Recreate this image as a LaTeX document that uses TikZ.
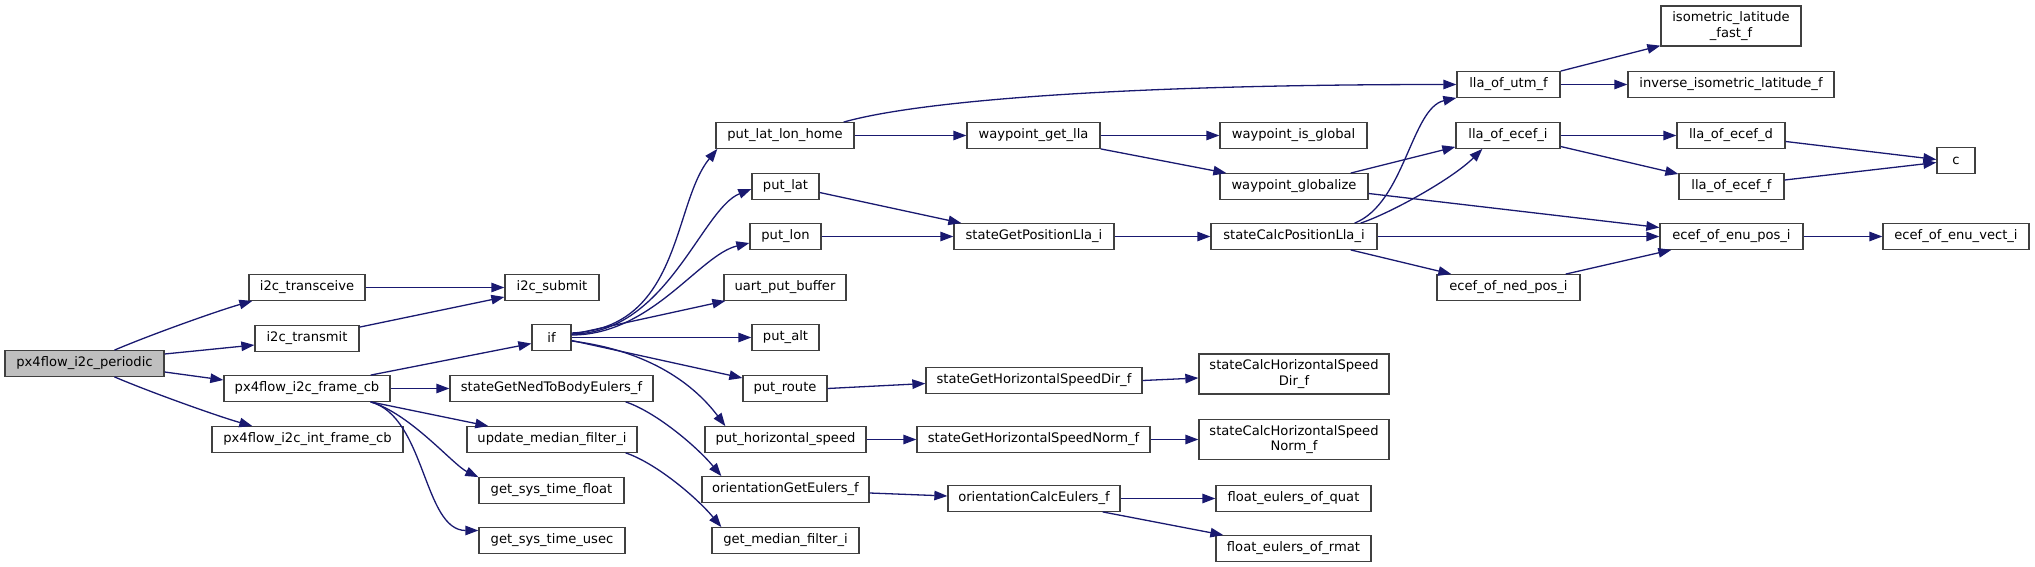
\documentclass[tikz,border=0pt]{standalone}
\usepackage{fontspec}
\setmainfont{DejaVu Sans}
\usetikzlibrary{arrows.meta,calc,positioning}
\definecolor{edgeblue}{RGB}{25,25,112}
\definecolor{boxgray}{RGB}{64,64,64}
\definecolor{rootgray}{RGB}{191,191,191}

\begin{document}
\begin{tikzpicture}[x=1pt,y=-1pt]
  \tikzset{
    fn/.style={draw=boxgray,line width=1.3pt,fill=white,minimum height=25.5pt,inner sep=0pt,align=center,font=\fontsize{13.1}{15.5}\selectfont},
    fntwo/.style={fn,minimum height=40pt},
    call/.style={draw=edgeblue,line width=1.3pt,-{Triangle[length=13pt,width=9.5pt]}}
  }
  \useasboundingbox (0,0) rectangle (2035,567);
  % column 0 and 1
  \node[fn,fill=rootgray,minimum width=159pt] (root) at (84.5,363.5) {px4flow\_i2c\_periodic};
  \node[fn,minimum width=116pt] (transceive) at (307,287.5) {i2c\_transceive};
  \node[fn,minimum width=104pt] (transmit) at (307,338.5) {i2c\_transmit};
  \node[fn,minimum width=166pt] (framecb) at (307,388.5) {px4flow\_i2c\_frame\_cb};
  \node[fn,minimum width=191pt] (intframecb) at (307.5,439.5) {px4flow\_i2c\_int\_frame\_cb};
  % column 2
  \node[fn,minimum width=94pt] (submit) at (552,287.5) {i2c\_submit};
  \node[fn,minimum width=39pt] (if) at (551.5,337.5) {if};
  \node[fn,minimum width=203pt] (nedtobody) at (551.5,388.5) {stateGetNedToBodyEulers\_f};
  \node[fn,minimum width=170pt] (updmedian) at (552,439.5) {update\_median\_filter\_i};
  \node[fn,minimum width=145pt] (timefloat) at (551.5,490.5) {get\_sys\_time\_float};
  \node[fn,minimum width=146pt] (timeusec) at (552,540.5) {get\_sys\_time\_usec};
  % column 3
  \node[fn,minimum width=138pt] (latlonhome) at (785,135.5) {put\_lat\_lon\_home};
  \node[fn,minimum width=67pt] (putlat) at (785.5,186.5) {put\_lat};
  \node[fn,minimum width=71pt] (putlon) at (785.5,236.5) {put\_lon};
  \node[fn,minimum width=122pt] (uartbuf) at (785,287.5) {uart\_put\_buffer};
  \node[fn,minimum width=67pt] (putalt) at (785.5,337.5) {put\_alt};
  \node[fn,minimum width=84pt] (putroute) at (785,388.5) {put\_route};
  \node[fn,minimum width=161pt] (hspeed) at (785.5,439.5) {put\_horizontal\_speed};
  \node[fn,minimum width=167pt] (getEulers) at (785.5,489.5) {orientationGetEulers\_f};
  \node[fn,minimum width=147pt] (getmedian) at (785.5,540.5) {get\_median\_filter\_i};
  % column 4
  \node[fn,minimum width=133pt] (wpgetlla) at (1033.5,135.5) {waypoint\_get\_lla};
  \node[fn,minimum width=160pt] (getposlla) at (1034,236.5) {stateGetPositionLla\_i};
  \node[fn,minimum width=216pt] (gethsdir) at (1034,380.5) {stateGetHorizontalSpeedDir\_f};
  \node[fn,minimum width=233pt] (gethsnorm) at (1033.5,439.5) {stateGetHorizontalSpeedNorm\_f};
  \node[fn,minimum width=172pt] (calcEulers) at (1034,498.5) {orientationCalcEulers\_f};
  % column 5
  \node[fn,minimum width=147pt] (wpisglobal) at (1293.5,135.5) {waypoint\_is\_global};
  \node[fn,minimum width=148pt] (wpglobalize) at (1294,186.5) {waypoint\_globalize};
  \node[fn,minimum width=166pt] (calcposlla) at (1294,236.5) {stateCalcPositionLla\_i};
  \node[fntwo,minimum width=190pt] (calchsdir) at (1294,374) {stateCalcHorizontalSpeed\\Dir\_f};
  \node[fntwo,minimum width=190pt] (calchsnorm) at (1294,439.5) {stateCalcHorizontalSpeed\\Norm\_f};
  \node[fn,minimum width=155pt] (ofquat) at (1293.5,498.5) {float\_eulers\_of\_quat};
  \node[fn,minimum width=155pt] (ofrmat) at (1293.5,548.5) {float\_eulers\_of\_rmat};
  % column 6
  \node[fn,minimum width=103pt] (llautm) at (1508.5,84.5) {lla\_of\_utm\_f};
  \node[fn,minimum width=104pt] (llaecefi) at (1508,135.5) {lla\_of\_ecef\_i};
  \node[fn,minimum width=143pt] (nedpos) at (1508.5,287.5) {ecef\_of\_ned\_pos\_i};
  % column 7
  \node[fntwo,minimum width=140pt] (isofast) at (1731,26) {isometric\_latitude\\\_fast\_f};
  \node[fn,minimum width=206pt] (inviso) at (1731,84.5) {inverse\_isometric\_latitude\_f};
  \node[fn,minimum width=108pt] (llaecefd) at (1731,135.5) {lla\_of\_ecef\_d};
  \node[fn,minimum width=105pt] (llaeceff) at (1731.5,186.5) {lla\_of\_ecef\_f};
  \node[fn,minimum width=143pt] (enupos) at (1731.5,236.5) {ecef\_of\_enu\_pos\_i};
  % column 8
  \node[fn,minimum width=38pt] (c) at (1956,160.5) {c};
  \node[fn,minimum width=146pt] (enuvect) at (1956,236.5) {ecef\_of\_enu\_vect\_i};

  % calls from the root
  \draw[call] ($(root.north)+(30,0)$) .. controls +(35,-15) and +(-35,10) .. ($(transceive.south west)+(4,0)$);
  \draw[call] ($(root.east)+(0,-9.5)$) -- ($(transmit.west)+(0,6.5)$);
  \draw[call] ($(root.east)+(0,8.5)$) -- ($(framecb.west)+(0,-8.5)$);
  \draw[call] ($(root.south)+(30,0)$) .. controls +(35,15) and +(-35,-10) .. ($(intframecb.north west)+(41,0)$);
  \draw[call] (transceive.east) -- (submit.west);
  \draw[call] ($(transmit.north east)+(0,2)$) -- ($(submit.west)+(0,9.5)$);
  % px4flow_i2c_frame_cb
  \draw[call] ($(framecb.north east)+(-20,0)$) -- ($(if.west)+(0,6)$);
  \draw[call] (framecb.east) -- (nedtobody.west);
  \draw[call] ($(framecb.south east)+(-20,0)$) -- ($(updmedian.north west)+(22,0)$);
  \draw[call] ($(framecb.south east)+(-20,0)$) .. controls +(40,12) and +(-25,-12) .. (timefloat.north west);
  \draw[call] ($(framecb.south east)+(-20,0)$) .. controls +(55,15) and +(-55,0) .. ($(timeusec.west)+(0,-10)$);
  % if
  \draw[call] ($(if.east)+(0,-4.5)$) .. controls +(110,-5) and +(-45,55) .. ($(latlonhome.south west)+(2,0)$);
  \draw[call] ($(if.east)+(0,-3.5)$) .. controls +(95,0) and +(-50,20) .. ($(putlat.west)+(0,2.5)$);
  \draw[call] ($(if.east)+(0,-2.5)$) .. controls +(80,0) and +(-50,12) .. ($(putlon.west)+(0,6.5)$);
  \draw[call] ($(if.east)+(0,-3)$) -- ($(uartbuf.south west)+(2,0)$);
  \draw[call] (if.east) -- (putalt.west);
  \draw[call] ($(if.east)+(0,3)$) -- ($(putroute.west)+(0,-10.5)$);
  \draw[call] ($(if.east)+(0,3.5)$) .. controls +(80,10) and +(-30,-40) .. ($(hspeed.north west)+(21,0)$);
  \draw[call] ($(nedtobody.south east)+(-28,0)$) .. controls +(30,10) and +(-25,-30) .. ($(getEulers.north west)+(20,0)$);
  \draw[call] ($(updmedian.south east)+(-12,0)$) .. controls +(30,10) and +(-25,-30) .. ($(getmedian.north west)+(10,0)$);
  % column 3 to 4
  \draw[call] ($(latlonhome.north east)+(-11,0)$) .. controls +(70,-20) and +(-350,0) .. (llautm.west);
  \draw[call] (latlonhome.east) -- (wpgetlla.west);
  \draw[call] ($(putlat.east)+(0,6)$) -- ($(getposlla.north west)+(8,0)$);
  \draw[call] (putlon.east) -- (getposlla.west);
  \draw[call] (putroute.east) -- ($(gethsdir.west)+(0,3)$);
  \draw[call] (hspeed.east) -- (gethsnorm.west);
  \draw[call] ($(getEulers.east)+(0,3.5)$) -- ($(calcEulers.west)+(0,-2.5)$);
  % column 4 to 5
  \draw[call] (wpgetlla.east) -- (wpisglobal.west);
  \draw[call] (wpgetlla.south east) -- ($(wpglobalize.north west)+(7,0)$);
  \draw[call] (getposlla.east) -- (calcposlla.west);
  \draw[call] (gethsdir.east) -- ($(calchsdir.west)+(0,4)$);
  \draw[call] (gethsnorm.east) -- (calchsnorm.west);
  \draw[call] (calcEulers.east) -- (ofquat.west);
  \draw[call] ($(calcEulers.south east)+(-18,0)$) -- ($(ofrmat.north west)+(8,0)$);
  % column 5 onwards
  \draw[call] ($(wpglobalize.north east)+(-18,0)$) -- ($(llaecefi.south west)+(0,-2)$);
  \draw[call] ($(wpglobalize.east)+(0,7)$) -- ($(enupos.west)+(0,-9)$);
  \draw[call] ($(calcposlla.north east)+(-23,0)$) .. controls +(50,-20) and +(-45,10) .. (llautm.south west);
  \draw[call] ($(calcposlla.north east)+(-17,0)$) .. controls +(30,-10) and +(-30,30) .. ($(llaecefi.south west)+(27,0)$);
  \draw[call] (calcposlla.east) -- (enupos.west);
  \draw[call] ($(calcposlla.south east)+(-27,0)$) -- ($(nedpos.north west)+(15,0)$);
  \draw[call] ($(nedpos.north east)+(-15,0)$) -- ($(enupos.south west)+(12,0)$);
  \draw[call] (llautm.north east) -- ($(isofast.south west)+(0,-1)$);
  \draw[call] (llautm.east) -- (inviso.west);
  \draw[call] (llaecefi.east) -- (llaecefd.west);
  \draw[call] ($(llaecefi.east)+(0,11)$) -- ($(llaeceff.west)+(0,-12.5)$);
  \draw[call] ($(llaecefd.east)+(0,6)$) -- ($(c.west)+(0,-1)$);
  \draw[call] ($(llaeceff.east)+(0,-6.5)$) -- ($(c.west)+(0,2)$);
  \draw[call] (enupos.east) -- (enuvect.west);
\end{tikzpicture}
\end{document}
